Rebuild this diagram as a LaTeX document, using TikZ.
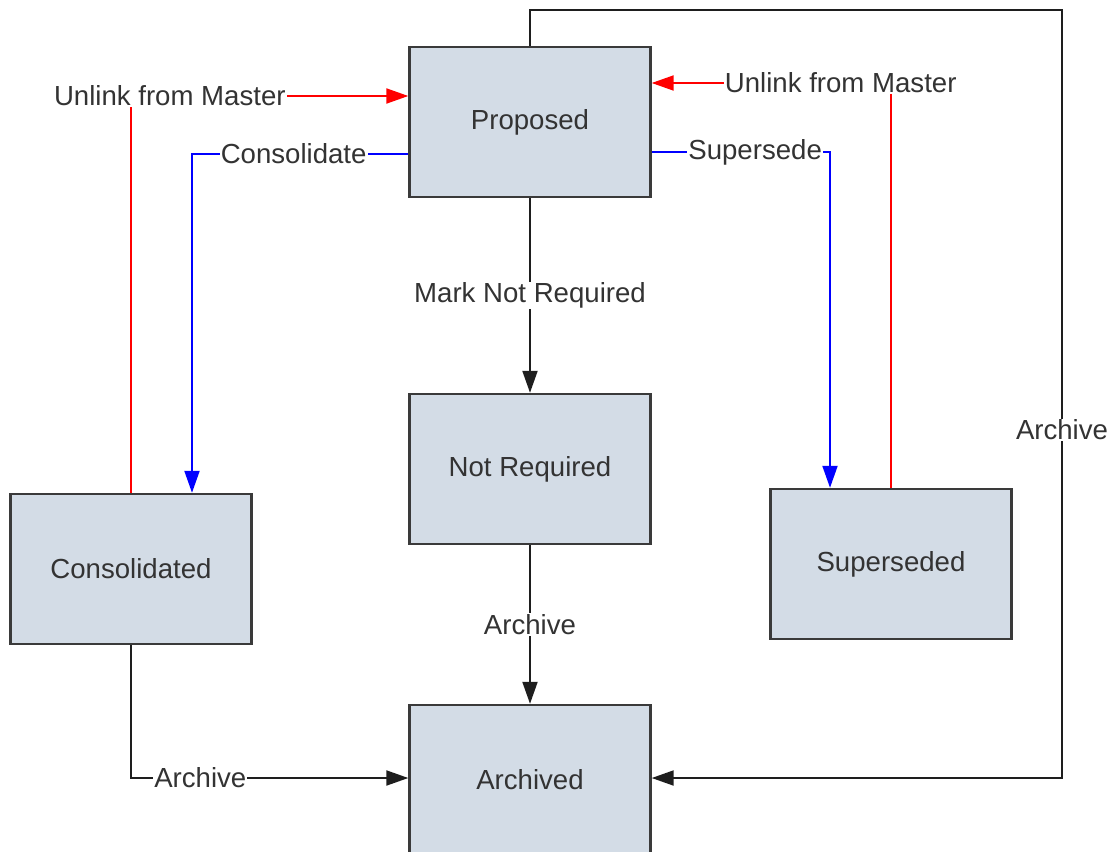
\documentclass[tikz,border=0pt]{standalone}
\usepackage{fontspec}
\setmainfont{Liberation Sans}
\usetikzlibrary{arrows.meta}
\definecolor{boxfill}{HTML}{D3DCE6}
\definecolor{boxline}{HTML}{3A3A3A}
\definecolor{txt}{HTML}{333333}
\definecolor{lred}{HTML}{FF0000}
\definecolor{lblue}{HTML}{0000FF}
\definecolor{lblack}{HTML}{1E1E1E}
\tikzset{
  box/.style={draw=boxline, line width=2.4pt, fill=boxfill, minimum width=241pt, minimum height=150pt,
    inner sep=0pt, text=txt, font=\fontsize{27.6}{32}\selectfont},
  lbl/.style={fill=white, inner sep=1pt, text=txt, font=\fontsize{27.6}{32}\selectfont},
  conn/.style={line width=2pt, -{Triangle[length=22pt,width=15pt]}},
  rconn/.style={conn, draw=lred},
  bconn/.style={conn, draw=lblue},
  kconn/.style={conn, draw=lblack},
}
\begin{document}
\begin{tikzpicture}[x=1pt,y=-1pt]
\useasboundingbox (0,0) rectangle (1115,851);
\node[box] (prop) at (530,122) {Proposed};
\node[box] (nr) at (530,469) {Not Required};
\node[box] (cons) at (131,569) {Consolidated};
\node[box] (sup) at (891,564) {Superseded};
\node[box] (arch) at (530,780) {Archived};
\coordinate (r1) at (0,96);
\coordinate (r2) at (0,83);
\coordinate (b1) at (0,154);
\coordinate (b2) at (0,152);
\coordinate (bx1) at (192,0);
\coordinate (bx2) at (830,0);
\coordinate (ka) at (0,778);
\coordinate (kt) at (0,10);
\coordinate (kr) at (1062,0);
% red left
\draw[rconn] (cons.north) -- (cons.north |- r1) -- node[lbl,pos=0.14]{Unlink from Master} (prop.west |- r1);
% blue left
\draw[bconn] (prop.west |- b1) -- node[lbl,pos=0.53]{Consolidate} (bx1 |- b1) -- (bx1 |- cons.north);
% red right
\draw[rconn] (sup.north) -- (sup.north |- r2) -- node[lbl,pos=0.21]{Unlink from Master} (prop.east |- r2);
% blue right
\draw[bconn] (prop.east |- b2) -- node[lbl,pos=0.58]{Supersede} (bx2 |- b2) -- (bx2 |- sup.north);
% black
\draw[kconn] (prop.south) -- node[lbl]{Mark Not Required} (nr.north);
\draw[kconn] (nr.south) -- node[lbl]{Archive} (arch.north);
\draw[kconn] (cons.south) -- (cons.south |- ka) -- node[lbl,pos=0.25]{Archive} (arch.west |- ka);
\draw[kconn] (prop.north) -- (prop.north |- kt) -- (kr |- kt) -- node[lbl,pos=0.547]{Archive} (kr |- ka) -- (arch.east |- ka);
\end{tikzpicture}
\end{document}
